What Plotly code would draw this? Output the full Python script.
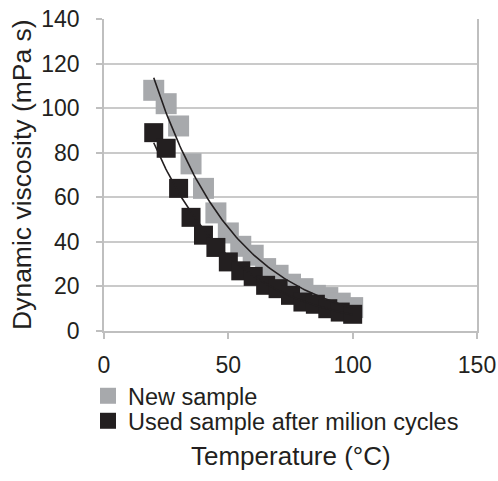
import numpy as np
import plotly.graph_objects as go

temperature = [20, 25, 30, 35, 40, 45, 50, 55, 60, 65, 70, 75, 80, 85, 90, 95, 100]
new_sample = [108, 102, 92, 75, 64, 53, 44, 38, 34, 28, 25, 21, 19, 16, 15, 12.5, 10.5]
used_sample = [89, 82, 64, 51, 43, 37.5, 31, 27, 24.5, 20.5, 19, 16, 13, 12, 10, 8.5, 7.5]
x_ticks = [0, 50, 100, 150]
y_ticks = [0, 20, 40, 60, 80, 100, 120, 140]

GRAY = "#a7a9ac"
BLACK = "#231f20"
AXIS = "#bfbfbf"
FONT = "Liberation Sans, Arial, sans-serif"

ML, MR, MT, MB = 104, 21, 19, 150
W, H = 498, 481
PW = W - ML - MR
PH = H - MT - MB


def px_x(p):
    return (p - ML) / PW


def px_y(p):
    return (MT + PH - p) / PH


def exp_fit(x, y):
    x = np.asarray(x, float)
    b, a = np.polyfit(x, np.log(np.asarray(y, float)), 1)
    xs = np.linspace(x.min(), x.max(), 100)
    return xs, np.exp(a + b * xs)


fig = go.Figure()
fig.add_trace(go.Scatter(x=temperature, y=new_sample, mode="markers", name="New sample",
                         legend="legend",
                         marker=dict(symbol="square", size=21, color=GRAY)))
fig.add_trace(go.Scatter(x=temperature, y=used_sample, mode="markers",
                         name="Used sample after milion cycles", legend="legend2",
                         marker=dict(symbol="square", size=19, color=BLACK)))
for ser in (new_sample, used_sample):
    xs, ys = exp_fit(temperature, ser)
    fig.add_trace(go.Scatter(x=xs, y=ys, mode="lines", showlegend=False,
                             line=dict(color=BLACK, width=1.6), hoverinfo="skip"))

leg_common = dict(xanchor="left", yanchor="top", bgcolor="rgba(0,0,0,0)",
                  font=dict(size=23.5), itemwidth=30)

fig.update_layout(
    width=W, height=H,
    margin=dict(l=ML, r=MR, t=MT, b=MB),
    paper_bgcolor="white", plot_bgcolor="white",
    font=dict(family=FONT, size=23, color=BLACK),
    showlegend=True,
    legend=dict(x=px_x(88), y=px_y(374), **leg_common),
    legend2=dict(x=px_x(88), y=px_y(399), **leg_common),
    annotations=[
        dict(text="Temperature (°C)", x=0.5, xref="paper", y=px_y(456),
             yref="paper", showarrow=False, font=dict(size=26),
             xanchor="center", yanchor="middle"),
        dict(text="Dynamic viscosity (mPa s)", x=px_x(22), y=0.5,
             xref="paper", yref="paper", showarrow=False, textangle=-90,
             font=dict(size=26.5), xanchor="center", yanchor="middle"),
    ],
)

fig.update_xaxes(range=[0, 150], tickvals=x_ticks, showgrid=False, zeroline=False,
                 automargin=False,
                 showline=True, linecolor=AXIS, linewidth=1.5,
                 ticks="outside", ticklen=6, tickcolor=AXIS, tickwidth=1.5,
                 ticklabelstandoff=7, tickfont=dict(size=23))
fig.update_yaxes(range=[0, 140], tickvals=y_ticks, showgrid=True, gridcolor="#cacaca",
                 gridwidth=1.5, zeroline=False, showline=True, mirror=True,
                 automargin=False,
                 linecolor=AXIS, linewidth=1.5,
                 ticks="outside", ticklen=6, tickcolor=AXIS, tickwidth=1.5,
                 ticklabelstandoff=12, tickfont=dict(size=23))

fig.write_html("out.html", config={"displayModeBar": False},
               post_script="document.body.style.margin='0';document.body.style.padding='0';")
